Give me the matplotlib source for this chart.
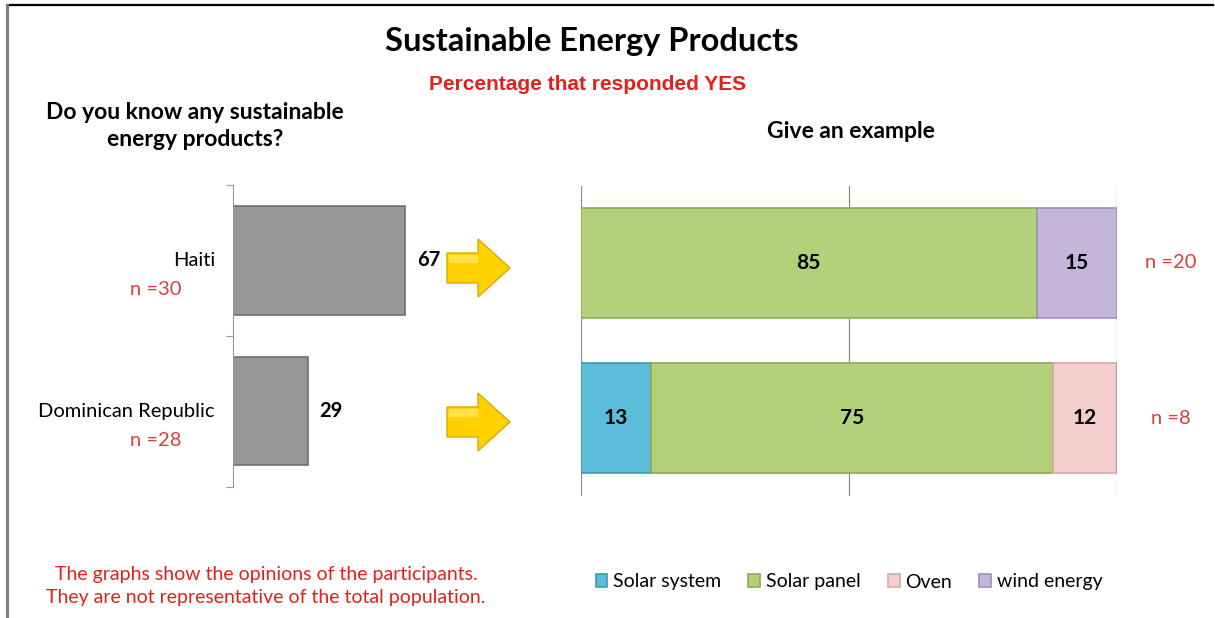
"""Sustainable energy products survey: awareness per country and examples given."""

import matplotlib
matplotlib.use('Agg')

import matplotlib.pyplot as plt
import matplotlib.patches as patches
import matplotlib.lines as mlines
import numpy as np

# ── Data ──────────────────────────────────────────────────────────────────────
countries      = ['Haiti', 'Dominican Republic']
country_n      = ['n =30', 'n =28']
know_pct       = [67, 29]

products       = ['Solar system', 'Solar panel', 'Oven', 'wind energy']
solar_system   = [0, 13]
solar_panel    = [85, 75]
oven           = [0, 12]
wind_energy    = [15, 0]
example_n      = ['n =20', 'n =8']

# ── Style ─────────────────────────────────────────────────────────────────────
BODY_FONT  = ['Lato', 'DejaVu Sans']
RED        = '#e3201b'
SOFT_RED   = '#d9403a'
GRAY_BAR   = '#979797'
PRODUCT_COLORS = ['#5bbdd9', '#b3d17a', '#f4cdcd', '#c4b6d8']
PRODUCT_EDGES  = ['#3f97b0', '#8ea95a', '#d6aaaa', '#9e8fb5']

plt.rcParams['font.family'] = BODY_FONT

W, H = 1215, 618
fig = plt.figure(figsize=(W / 100, H / 100), dpi=100)


def fx(px):
    return px / W


def fy(py):
    return 1 - py / H


# ── Frame lines ───────────────────────────────────────────────────────────────
fig.add_artist(mlines.Line2D([fx(7), fx(1213)], [fy(5), fy(5)], color='black', lw=1.6))
fig.add_artist(mlines.Line2D([fx(7), fx(7)], [fy(5), fy(618)], color='#7f7f7f', lw=2.2))

# ── Titles ────────────────────────────────────────────────────────────────────
fig.text(fx(592), fy(42), 'Sustainable Energy Products', ha='center', va='center',
         fontsize=23.5, fontweight='bold')
fig.text(fx(588), fy(84), 'Percentage that responded YES', ha='center', va='center',
         fontsize=15, fontweight='bold', color=RED, family='Liberation Sans')
fig.text(fx(195), fy(126), 'Do you know any sustainable\nenergy products?', ha='center',
         va='center', fontsize=16.5, fontweight='bold', linespacing=1.4)
fig.text(fx(851), fy(131), 'Give an example', ha='center', va='center',
         fontsize=16.5, fontweight='bold')

# ── Left chart: awareness ─────────────────────────────────────────────────────
ax1 = fig.add_axes([fx(233), fy(486.5), fx(257), (486.5 - 185) / H])
ypos = np.arange(len(countries))
ax1.barh(ypos, know_pct, height=0.72, color=GRAY_BAR, edgecolor='#6e6e6e', lw=1.2)
for y, v in zip(ypos, know_pct):
    ax1.text(v + 9, y, str(v), ha='center', va='center', fontsize=14.5, fontweight='bold')
ax1.set_xlim(0, 100)
ax1.set_ylim(1.5, -0.5)
ax1.set_yticks([-0.5, 0.5, 1.5])
ax1.set_yticklabels([])
ax1.tick_params(axis='y', length=5, color='#9a9a9a', direction='out')
ax1.set_xticks([])
for side in ['top', 'right', 'bottom']:
    ax1.spines[side].set_visible(False)
ax1.spines['left'].set_color('#9a9a9a')
ax1.patch.set_alpha(0)

for y, name, n in zip(ypos, countries, country_n):
    ax1.annotate(name, xy=(0, y), xycoords=('axes fraction', 'data'),
                 xytext=(-13, 0), textcoords='offset points',
                 ha='right', va='center', fontsize=14.5)
    ax1.annotate(n, xy=(0, y), xycoords=('axes fraction', 'data'),
                 xytext=(-37, -21), textcoords='offset points',
                 ha='right', va='center', fontsize=14.5, color=SOFT_RED)

# ── Yellow arrows between the charts ──────────────────────────────────────────
deco = fig.add_axes([0, 0, 1, 1])
deco.set_xlim(0, W)
deco.set_ylim(H, 0)
deco.axis('off')
deco.patch.set_alpha(0)
for cy in [268, 422]:
    shape = [(447, cy - 15), (478, cy - 15), (478, cy - 29), (510, cy),
             (478, cy + 29), (478, cy + 15), (447, cy + 15)]
    deco.add_patch(patches.Polygon(shape, closed=True, facecolor='#ffd200',
                                   edgecolor='#e0a800', lw=1.0))
    deco.add_patch(patches.Polygon([(449, cy - 13), (478, cy - 13), (478, cy - 5), (449, cy - 5)],
                                   closed=True, facecolor='#fff07a', edgecolor='none', alpha=0.6))

# ── Right chart: examples given ───────────────────────────────────────────────
ax2 = fig.add_axes([fx(581), fy(495.5), fx(536), 310 / H])
series = [solar_system, solar_panel, oven, wind_energy]
left = np.zeros(len(countries))
handles = []
for vals, name, col, ec in zip(series, products, PRODUCT_COLORS, PRODUCT_EDGES):
    vals = np.array(vals, dtype=float)
    bars = ax2.barh(ypos, vals, left=left, height=0.71, color=col, edgecolor=ec,
                    lw=1.2, label=name, zorder=3)
    handles.append(bars)
    for y, v, l in zip(ypos, vals, left):
        if v > 0:
            ax2.text(l + v / 2, y, f'{v:.0f}', ha='center', va='center',
                     fontsize=15, fontweight='bold', zorder=4)
    left += vals

ax2.set_xlim(0, 100)
ax2.set_ylim(1.5, -0.5)
ax2.set_xticks([0, 50, 100])
ax2.set_yticks([])
ax2.xaxis.grid(True, color='#8c8c8c', lw=0.9)
ax2.tick_params(axis='x', length=0, labelbottom=False)
for s in ax2.spines.values():
    s.set_visible(False)
ax2.patch.set_alpha(0)

for y, n in zip(ypos, example_n):
    ax2.annotate(n, xy=(1, y), xycoords=('axes fraction', 'data'),
                 xytext=(39, 0), textcoords='offset points',
                 ha='center', va='center', fontsize=14.5, color=SOFT_RED)

fig.legend(handles=handles, labels=products, loc='center', ncol=4,
           bbox_to_anchor=(fx(849), fy(582)), frameon=False, fontsize=14,
           handlelength=0.6, handleheight=0.6, handletextpad=0.3, columnspacing=1.4)

# ── Footnote ──────────────────────────────────────────────────────────────────
fig.text(fx(266), fy(586), 'The graphs show the opinions of the participants.\n'
         'They are not representative of the total population.',
         ha='center', va='center', fontsize=14, color=RED, linespacing=1.45)

fig.savefig('out.png', dpi=100)
